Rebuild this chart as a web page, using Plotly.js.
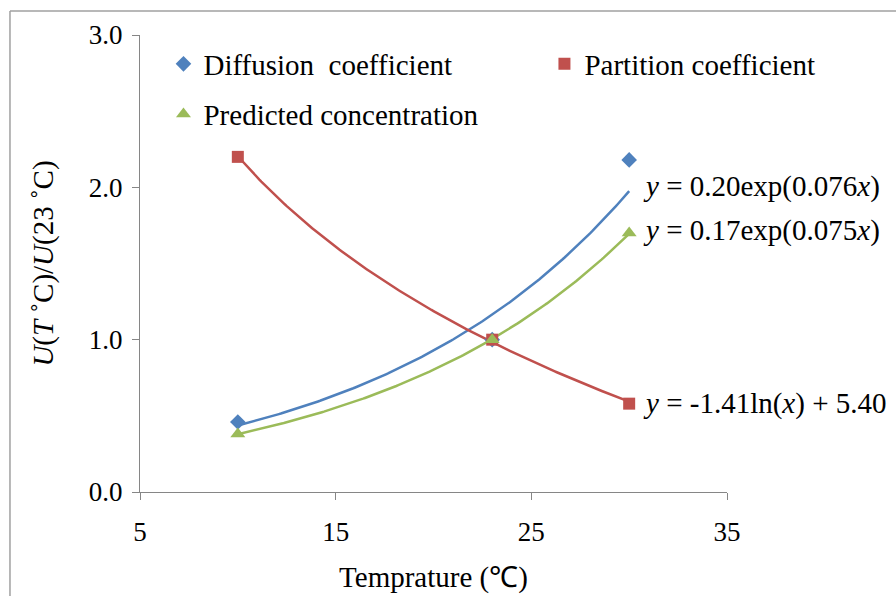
<!DOCTYPE html>
<html>
<head>
<meta charset="utf-8">
<script src="https://cdn.plot.ly/plotly-3.0.1.min.js"></script>
<style>html,body{margin:0;padding:0;background:#fff;}#chart{width:896px;height:596px;}</style>
</head>
<body>
<div id="chart"></div>
<script>
// ---- data ----
const temperature = [10, 23, 30];
const diffusion = [0.46, 1.00, 2.18];
const partition = [2.20, 1.00, 0.58];
const predicted = [0.38, 1.00, 1.70];
const seriesNames = ['Diffusion  coefficient', 'Partition coefficient', 'Predicted concentration'];
const equationLabels = [
  '<i>y</i> = 0.20exp(0.076<i>x</i>)',
  '<i>y</i> = 0.17exp(0.075<i>x</i>)',
  '<i>y</i> = -1.41ln(<i>x</i>) + 5.40'
];
const xTicks = [5, 15, 25, 35];
const yTicks = [0, 1, 2, 3];

// ---- least-squares trendlines (as the spreadsheet computes them) ----
function linReg(xs, ys) {
  const n = xs.length;
  const mx = xs.reduce((a, b) => a + b, 0) / n;
  const my = ys.reduce((a, b) => a + b, 0) / n;
  let sxy = 0, sxx = 0;
  for (let i = 0; i < n; i++) { sxy += (xs[i] - mx) * (ys[i] - my); sxx += (xs[i] - mx) ** 2; }
  const b = sxy / sxx;
  return { slope: b, icpt: my - b * mx };
}
function expTrend(xs, ys) {
  const r = linReg(xs, ys.map(Math.log));
  const a = Math.exp(r.icpt);
  return x => a * Math.exp(r.slope * x);
}
function logTrend(xs, ys) {
  const r = linReg(xs.map(Math.log), ys);
  return x => r.slope * Math.log(x) + r.icpt;
}
const xMin = Math.min(...temperature), xMax = Math.max(...temperature);
const xs = [];
for (let i = 0; i <= 200; i++) xs.push(xMin + (xMax - xMin) * i / 200);
const fD = expTrend(temperature, diffusion);
const fP = logTrend(temperature, partition);
const fC = expTrend(temperature, predicted);

const blue = '#4F81BD', red = '#C0504D', green = '#9BBB59';
const FONT = 'Liberation Serif';

const traces = [
  { x: xs, y: xs.map(fD), mode: 'lines', line: { color: blue, width: 2.5 }, showlegend: false, hoverinfo: 'skip' },
  { x: xs, y: xs.map(fP), mode: 'lines', line: { color: red, width: 2.5 }, showlegend: false, hoverinfo: 'skip' },
  { x: xs, y: xs.map(fC), mode: 'lines', line: { color: green, width: 2.5 }, showlegend: false, hoverinfo: 'skip' },
  { x: temperature, y: diffusion, name: seriesNames[0], mode: 'markers', marker: { symbol: 'diamond', size: 12, color: blue }, legend: 'legend' },
  { x: temperature, y: partition, name: seriesNames[1], mode: 'markers', marker: { symbol: 'square', size: 12, color: red }, legend: 'legend2' },
  { x: temperature, y: predicted, name: seriesNames[2], mode: 'markers', marker: { symbol: 'triangle-up', size: 13, color: green }, legend: 'legend3' }
];

const axisCommon = {
  showgrid: false, zeroline: false, showline: true, linecolor: '#868686', linewidth: 1,
  ticks: 'outside', ticklen: 7, tickcolor: '#868686', tickwidth: 1,
  tickfont: { family: FONT, size: 27, color: '#000' }
};

const legendCommon = {
  orientation: 'h', xanchor: 'left', yanchor: 'middle', itemwidth: 30,
  font: { family: FONT, size: 29, color: '#000' }, bgcolor: 'rgba(0,0,0,0)'
};

const annFont = { family: FONT, size: 29, color: '#000' };

const layout = {
  width: 896, height: 596,
  margin: { l: 140, r: 169, t: 35, b: 104, pad: 0 },
  paper_bgcolor: '#fff', plot_bgcolor: '#fff',
  font: { family: FONT, color: '#000' },
  xaxis: Object.assign({}, axisCommon, {
    range: [5, 35], tickvals: xTicks, ticktext: xTicks.map(String),
    ticklabelstandoff: 9,
    title: { text: 'Temprature (℃)', font: { family: FONT, size: 29 }, standoff: 20 }
  }),
  yaxis: Object.assign({}, axisCommon, {
    range: [0, 3], tickvals: yTicks, ticktext: yTicks.map(v => v.toFixed(1)),
    ticklabelstandoff: 4,
    title: { text: '<i>U</i>(<i>T</i> ˚C)/<i>U</i>(23 ˚C)', font: { family: FONT, size: 29 }, standoff: 26 }
  }),
  legend: Object.assign({}, legendCommon, { x: 0.04, y: 0.9365 }),
  legend2: Object.assign({}, legendCommon, { x: 0.689, y: 0.9365 }),
  legend3: Object.assign({}, legendCommon, { x: 0.04, y: 0.827 }),
  annotations: [
    { text: equationLabels[0], xref: 'paper', yref: 'paper', x: 0.8535, y: 0.6674, xanchor: 'left', yanchor: 'middle', showarrow: false, font: annFont },
    { text: equationLabels[1], xref: 'paper', yref: 'paper', x: 0.8535, y: 0.5733, xanchor: 'left', yanchor: 'middle', showarrow: false, font: annFont },
    { text: equationLabels[2], xref: 'paper', yref: 'paper', x: 0.8535, y: 0.1926, xanchor: 'left', yanchor: 'middle', showarrow: false, font: annFont }
  ],
  shapes: [
    { type: 'line', xref: 'paper', yref: 'paper', x0: -0.2215, x1: -0.2215, y0: -0.3, y1: 1.0525, line: { color: '#A0A0A0', width: 1.5 } },
    { type: 'line', xref: 'paper', yref: 'paper', x0: -0.2215, x1: 1.4, y0: 1.0525, y1: 1.0525, line: { color: '#A0A0A0', width: 1.5 } }
  ]
};

Plotly.newPlot('chart', traces, layout, { displayModeBar: false, staticPlot: true });
</script>
</body>
</html>
